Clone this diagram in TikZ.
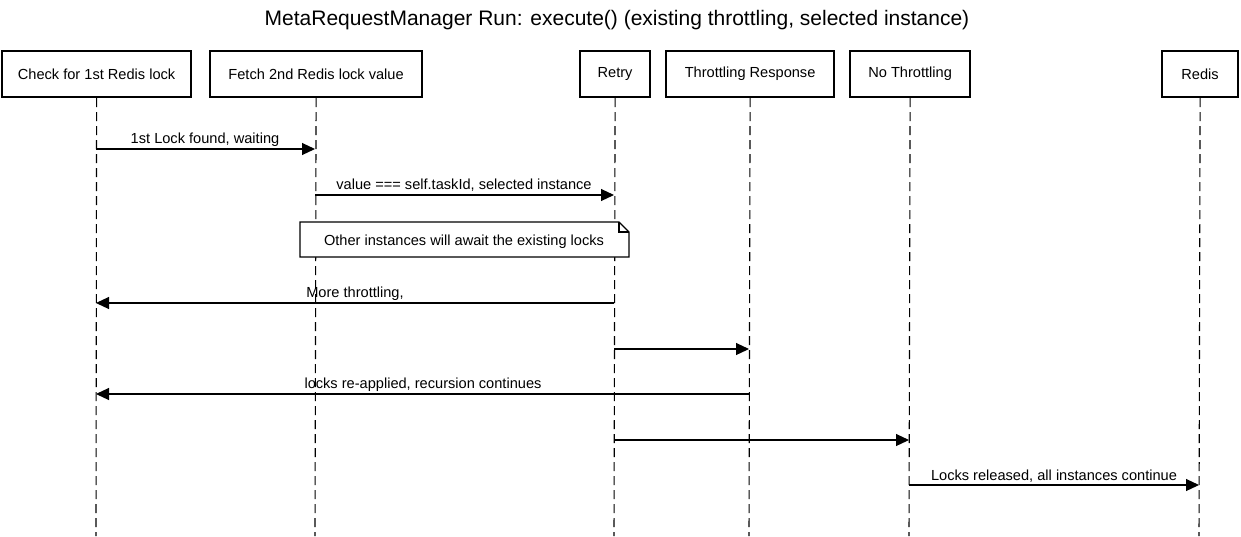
\documentclass[tikz,border=0pt]{standalone}
\usepackage{fontspec}
\setmainfont{Liberation Sans}
\usetikzlibrary{arrows.meta}
\begin{document}
\begin{tikzpicture}[x=1pt,y=-1pt,
  actor/.style={draw,line width=2.2pt,minimum height=46pt,inner sep=0pt,font=\fontsize{14.6}{16}\selectfont,anchor=north west},
  life/.style={draw,line width=1.1pt,dash pattern=on 9pt off 5pt},
  msg/.style={draw,line width=1.1pt,-{Triangle[length=13pt,width=12pt]}},
  lbl/.style={font=\fontsize{14.6}{16}\selectfont,inner sep=0pt,anchor=base}
]
\useasboundingbox (0,0) rectangle (1241,536);
\node[font=\fontsize{21}{23}\selectfont,anchor=base] (title) at (617,25) {MetaRequestManager Run: execute() (existing throttling, selected instance)};
% actors
\node[actor,minimum width=189pt] (a1) at (1,50) {Check for 1st Redis lock};
\node[actor,minimum width=212pt] (a2) at (209,50) {Fetch 2nd Redis lock value};
\node[actor,minimum width=70pt] (a3) at (579,50) {Retry};
\node[actor,minimum width=168pt] (a4) at (665,50) {Throttling Response};
\node[actor,minimum width=120pt] (a5) at (849,50) {No Throttling};
\node[actor,minimum width=76pt] (a6) at (1161,50) {Redis};
% lifeline ends
\coordinate (e1) at (96,536);
\coordinate (e2) at (315,536);
\coordinate (e3) at (614,536);
\coordinate (e4) at (749,536);
\coordinate (e5) at (909,536);
\coordinate (e6) at (1199,536);
\foreach \i in {1,...,6} { \draw[life] (a\i.south) -- (e\i); }
% messages
\draw[msg] (e1 |- 0,149) -- (e2 |- 0,149);
\node[lbl] (l1) at (205,143) {1st Lock found, waiting};
\draw[msg] (e2 |- 0,195) -- (e3 |- 0,195);
\node[lbl] (l2) at (464,189) {value === self.taskId, selected instance};
% note
\draw[line width=1.1pt,fill=white] (300,222) -- (619,222) -- (629,232) -- (629,257) -- (300,257) -- cycle;
\draw[line width=1.1pt] (619,222) -- (619,232) -- (629,232);
\node[lbl] (note) at (464,245) {Other instances will await the existing locks};
\draw[msg] (e3 |- 0,303) -- (e1 |- 0,303);
\node[lbl] (l4) at (355,297) {More throttling,};
\draw[msg] (e3 |- 0,349) -- (e4 |- 0,349);
\draw[msg] (e4 |- 0,394) -- (e1 |- 0,394);
\node[lbl] (l6) at (423,388) {locks re-applied, recursion continues};
\draw[msg] (e3 |- 0,440) -- (e5 |- 0,440);
\draw[msg] (e5 |- 0,485) -- (e6 |- 0,485);
\node[lbl] (l8) at (1054,480) {Locks released, all instances continue};
\end{tikzpicture}
\end{document}
